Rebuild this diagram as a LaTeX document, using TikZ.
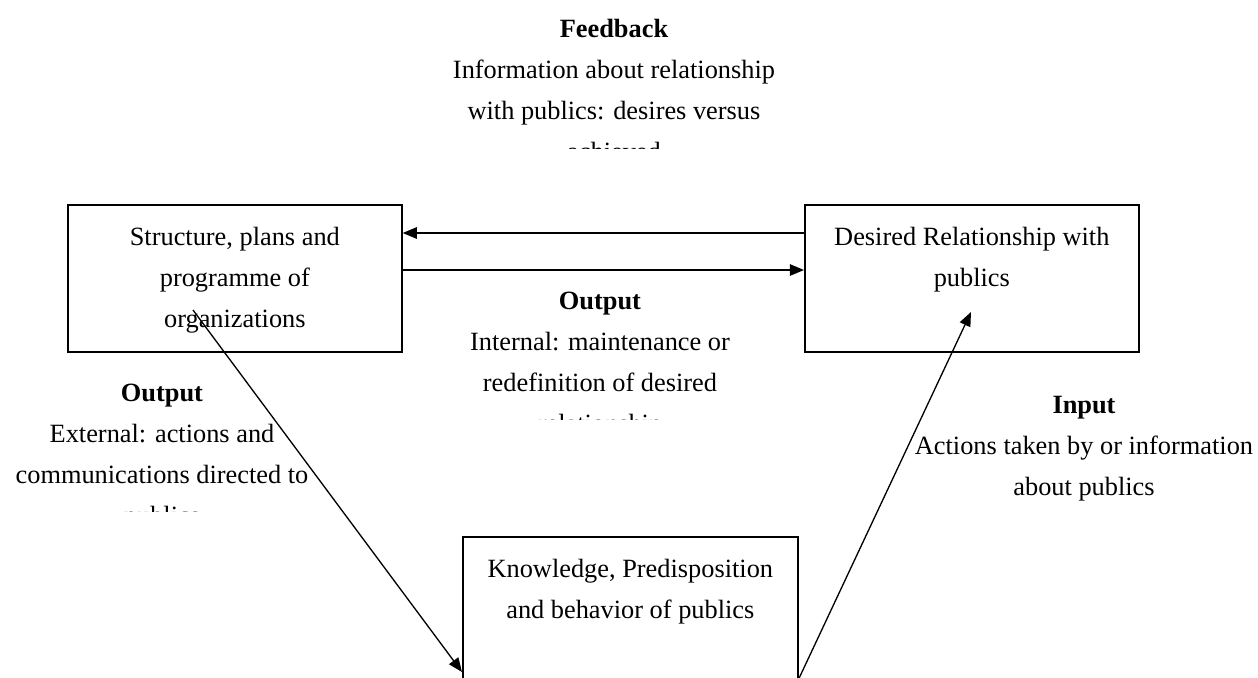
\documentclass[tikz,border=0pt]{standalone}
\usepackage{fontspec}
\setmainfont{Liberation Serif}
\usetikzlibrary{arrows.meta, positioning, calc}

\begin{document}
\begin{tikzpicture}[x=0.02cm, y=-0.02cm,
      every node/.style={font=\fontsize{15}{23.3}\selectfont, align=center, inner sep=0pt},
      box/.style={draw, line width=1pt, anchor=north west, minimum width=6.68cm},
      three/.style={text height=2.46cm, text depth=0.48cm},
      two/.style={text height=1.64cm, text depth=1.30cm},
      arr/.style={-{Triangle[length=8pt, width=6.5pt]}, line width=0.75pt}]
      \clip (0,0) rectangle (1258,677);
      % the three boxes
      \node[box, three] (org) at (67,204) {Structure, plans and\\programme of\\organizations};
      \node[box, two] (rel) at (804,204) {Desired Relationship with\\publics};
      \node[box, two, minimum width=6.7cm] (pub) at (462,536) {Knowledge, Predisposition\\and behavior of publics};
      % labels, some cut off at the bottom
      \begin{scope}
        \clip (380,0) rectangle (850,148);
        \node[anchor=base] (fb) at (614,160) {\textbf{Feedback}\\Information about relationship\\with publics: desires versus\\achieved};
      \end{scope}
      \begin{scope}
        \clip (420,280) rectangle (780,419);
        \node[anchor=base] (outInt) at (600,432) {\textbf{Output}\\Internal: maintenance or\\redefinition of desired\\relationship};
      \end{scope}
      \begin{scope}
        \clip (0,370) rectangle (330,511);
        \node[anchor=base] (outExt) at (162,524) {\textbf{Output}\\External: actions and\\communications directed to\\publics};
      \end{scope}
      \node[anchor=base] (inp) at (1084,495) {\textbf{Input}\\Actions taken by or information\\about publics};
      % connectors
      \coordinate (oS) at (193,310);
      \coordinate (oE) at (pub.west |- 0,672);
      \coordinate (iS) at (pub.east |- 0,679);
      \coordinate (iE) at (971,312);
      \draw[arr] (rel.west |- 0,233) -- (org.east |- 0,233);
      \draw[arr] (org.east |- 0,270) -- (rel.west |- 0,270);
      \draw[arr] (oS) -- (oE);
      \draw[arr] (iS) -- (iE);
    \end{tikzpicture}
\end{document}
